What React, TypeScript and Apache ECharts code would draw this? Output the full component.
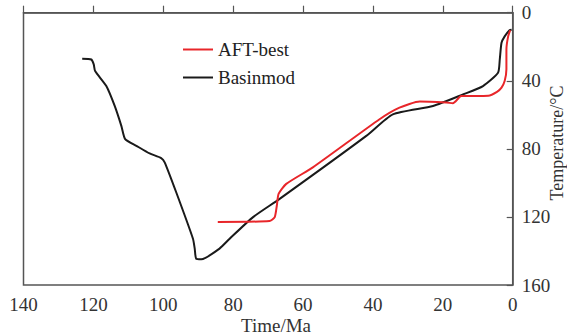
import React, { useEffect, useRef } from "react";
import * as echarts from "echarts";

// Basinmod burial/thermal history
const basinAge = [123.2, 120.6, 119.9, 119.5, 116.3, 113.9, 112.0, 110.9, 107.7, 103.9, 100.6, 99.6, 96.3, 91.5, 91.0, 90.6, 89.1, 83.9, 81.0, 74.3, 66.7, 41.9, 34.3, 22.8, 14.2, 8.5, 4.2, 3.7, 3.2, 2.3, 0.9, 0.3];
const basinTemp = [27, 27.5, 30.4, 34.3, 43.1, 54.8, 66.5, 74.3, 78.2, 82.7, 85.4, 87.9, 105.5, 132.8, 138.6, 144.5, 144.9, 138.6, 132.8, 120.1, 109.4, 72.4, 59.7, 54.8, 48, 43.1, 35.3, 27.5, 17.7, 13.9, 10.3, 10];

// AFT-best thermal path
const aftAge = [84.4, 69.6, 68.1, 67.5, 67.0, 64.8, 57.2, 38.1, 32.4, 26.6, 19.0, 17.1, 14.7, 7.0, 4.5, 3.2, 2.3, 1.8, 1.8, 1.3, 0.7];
const aftTemp = [123.0, 122.4, 120.1, 113.3, 106.5, 100.6, 90.9, 62.6, 55.8, 52.2, 52.8, 53.2, 49.0, 48.8, 46.5, 44.0, 40.2, 33.3, 21.6, 13.9, 10.3];

const seriesNames = ["AFT-best", "Basinmod"];
const xTicks = [0, 140, 20];
const yTicks = [0, 160, 40];
const xTitle = "Time/Ma";
const yTitle = "Temperature/°C";

const FONT = "'Liberation Serif', 'Times New Roman', serif";

export default function App() {
  const ref = useRef<HTMLDivElement>(null);
  useEffect(() => {
    if (!ref.current) return;
    const chart = echarts.init(ref.current, undefined, { renderer: "svg" });
    const pair = (a: number[], b: number[]) => a.map((v, i) => [v, b[i]]);
    chart.setOption({
      animation: false,
      backgroundColor: "#ffffff",
      grid: {
        left: 23.5,
        right: 54.3,
        top: 12.7,
        bottom: 51,
        outerBoundsMode: "none",
        containLabel: false,
        show: true,
        borderColor: "#555",
        borderWidth: 1.5,
        backgroundColor: "transparent",
      },
      legend: {
        orient: "vertical",
        left: 183,
        top: 40,
        padding: 0,
        itemGap: 9,
        itemWidth: 30,
        itemHeight: 2,
        icon: "rect",
        data: seriesNames,
        textStyle: { fontFamily: FONT, fontSize: 19, color: "#222", padding: [0, 0, 0, 0] },
      },
      graphic: [
        {
          type: "text",
          x: 276,
          y: 325,
          style: {
            text: xTitle,
            font: "19px " + FONT,
            fill: "#333",
            align: "center",
            verticalAlign: "middle",
          },
        },
        {
          type: "text",
          x: 557,
          y: 143,
          rotation: Math.PI / 2,
          style: {
            text: yTitle,
            font: "18px " + FONT,
            fill: "#333",
            align: "center",
            verticalAlign: "middle",
          },
        },
      ],
      xAxis: {
        type: "value",
        inverse: true,
        min: xTicks[0],
        max: xTicks[1],
        interval: xTicks[2],
        position: "bottom",
        axisLine: { show: true, lineStyle: { color: "#555", width: 1.5 } },
        axisTick: { show: true, inside: true, length: 7, lineStyle: { color: "#555", width: 1.2 } },
        axisLabel: { fontFamily: FONT, fontSize: 19, color: "#333", margin: 10 },
        splitLine: { show: false },
      },
      yAxis: {
        type: "value",
        inverse: true,
        min: yTicks[0],
        max: yTicks[1],
        interval: yTicks[2],
        position: "right",
        axisLine: { show: true, lineStyle: { color: "#555", width: 1.5 } },
        axisTick: { show: true, inside: true, length: 6, lineStyle: { color: "#555", width: 1.2 } },
        axisLabel: { fontFamily: FONT, fontSize: 19, color: "#333", margin: 9, align: "left" },
        splitLine: { show: false },
      },
      series: [
        {
          name: seriesNames[0],
          type: "line",
          data: pair(aftAge, aftTemp),
          symbol: "none",
          smooth: 0.2,
          lineStyle: { color: "#e8262a", width: 2 },
          itemStyle: { color: "#e8262a" },
          z: 3,
        },
        {
          name: seriesNames[1],
          type: "line",
          data: pair(basinAge, basinTemp),
          symbol: "none",
          smooth: 0.2,
          lineStyle: { color: "#1a1a1a", width: 2 },
          itemStyle: { color: "#1a1a1a" },
          z: 2,
        },
      ],
    });
    return () => chart.dispose();
  }, []);
  return (
    <div
      ref={ref}
      style={{ position: "fixed", left: 0, top: 0, width: 567, height: 336 }}
    />
  );
}
